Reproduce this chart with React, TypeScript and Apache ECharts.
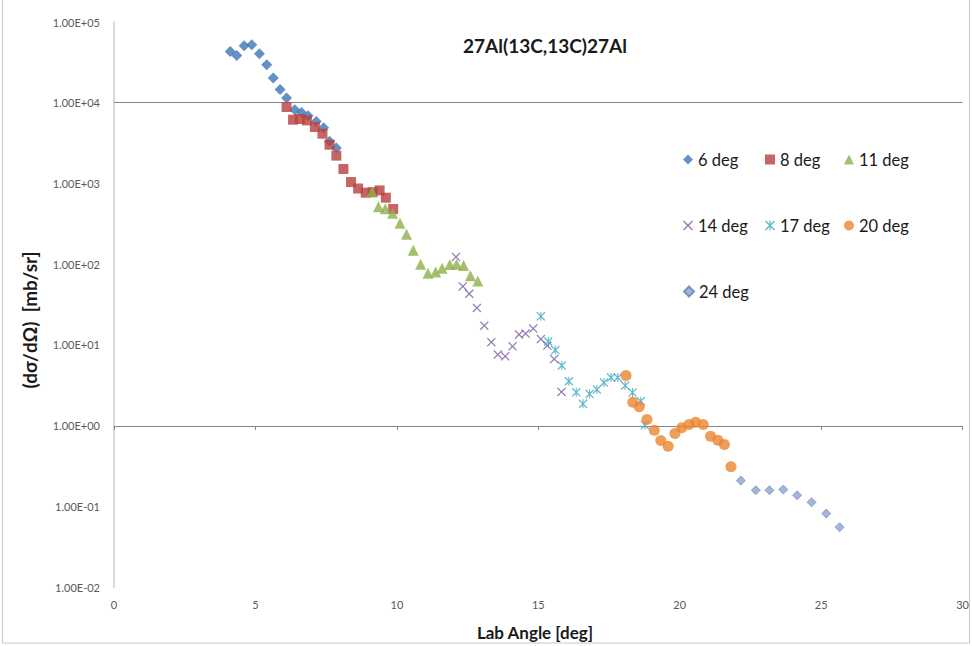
import React, { useEffect, useRef } from "react";
import * as echarts from "echarts";

const deg6Angle = [4.11, 4.34, 4.6, 4.87, 5.14, 5.4, 5.63, 5.87, 6.1, 6.39, 6.63, 6.86, 7.15, 7.41, 7.62, 7.86];
const deg6Value = [43000, 38500, 50800, 52200, 40400, 29600, 20200, 14600, 11400, 8200, 7580, 6900, 5860, 4900, 3320, 2750];

const deg8Angle = [6.1, 6.33, 6.57, 6.82, 7.1, 7.37, 7.62, 7.86, 8.11, 8.38, 8.63, 8.9, 9.14, 9.39, 9.61, 9.87];
const deg8Value = [8850, 6160, 6280, 6040, 5000, 4130, 3020, 2210, 1510, 1040, 865, 768, 779, 820, 666, 483];

const deg11Angle = [9.12, 9.35, 9.59, 9.85, 10.11, 10.34, 10.58, 10.84, 11.1, 11.37, 11.6, 11.87, 12.11, 12.36, 12.6, 12.86];
const deg11Value = [790, 515, 487, 428, 322, 235, 149, 100, 77, 80, 89, 99, 100, 96, 72, 62];

const deg14Angle = [12.09, 12.33, 12.56, 12.83, 13.09, 13.34, 13.57, 13.83, 14.09, 14.32, 14.55, 14.82, 15.09, 15.32, 15.56, 15.82];
const deg14Value = [123, 53, 43, 28.7, 17.3, 10.8, 7.57, 7.21, 9.6, 13.4, 13.8, 15.9, 11.8, 9.8, 6.66, 2.61];

const deg17Angle = [15.09, 15.35, 15.6, 15.83, 16.08, 16.34, 16.58, 16.81, 17.07, 17.32, 17.57, 17.81, 18.07, 18.33, 18.62, 18.77];
const deg17Value = [22.6, 11.0, 8.61, 5.54, 3.54, 2.58, 1.86, 2.47, 2.79, 3.41, 3.93, 3.93, 3.13, 2.56, 2.0, 1.01];

const deg20Angle = [18.1, 18.34, 18.57, 18.84, 19.1, 19.33, 19.59, 19.83, 20.07, 20.33, 20.56, 20.83, 21.09, 21.35, 21.58, 21.81];
const deg20Value = [4.16, 1.94, 1.71, 1.19, 0.875, 0.652, 0.555, 0.796, 0.937, 1.03, 1.1, 1.03, 0.737, 0.657, 0.582, 0.308];

const deg24Angle = [22.16, 22.69, 23.17, 23.66, 24.15, 24.66, 25.18, 25.65];
const deg24Value = [0.208, 0.158, 0.158, 0.161, 0.137, 0.112, 0.0813, 0.055];

const seriesNames = ["6 deg", "8 deg", "11 deg", "14 deg", "17 deg", "20 deg", "24 deg"];
const xTicks = { min: 0, max: 30, interval: 5 };
const yRange = { min: 0.01, max: 100000 };
const titleText = "27Al(13C,13C)27Al";
const xName = "Lab Angle [deg]";
const yName = "(dσ/dΩ)  [mb/sr]";

const X_PATH = "path://M0,1 L1,0 L5,4 L9,0 L10,1 L6,5 L10,9 L9,10 L5,6 L1,10 L0,9 L4,5 Z";
const STAR_PATH =
  "path://M0,1 L1,0 L5,4 L9,0 L10,1 L6,5 L10,9 L9,10 L5,6 L1,10 L0,9 L4,5 Z M4.4,0 L5.6,0 L5.6,10 L4.4,10 Z";

const FONT = "Lato, 'Open Sans', sans-serif";

function pairs(xs: number[], ys: number[]) {
  return xs.map((x, i) => [x, ys[i]]);
}

function fmtLog(v: number) {
  const e = Math.round(Math.log10(v));
  const s = e < 0 ? "-" : "+";
  return "1.00E" + s + String(Math.abs(e)).padStart(2, "0");
}

export default function App() {
  const ref = useRef<HTMLDivElement>(null);
  useEffect(() => {
    if (!ref.current) return;
    const chart = echarts.init(ref.current, null, { renderer: "svg" });

    const styles = [
      { symbol: "diamond", size: 11, color: "#3F74B5", border: "#3F74B5" },
      { symbol: "rect", size: 10, color: "#B8403D", border: "#B8403D" },
      { symbol: "triangle", size: 11, color: "#8DB04A", border: "#8DB04A" },
      { symbol: X_PATH, size: 9, color: "#7A5C9E", border: "#7A5C9E" },
      { symbol: STAR_PATH, size: 9, color: "#3EA6C0", border: "#3EA6C0" },
      { symbol: "circle", size: 11, color: "#EC8530", border: "#EC8530" },
      { symbol: "diamond", size: 9, color: "#8CA2CE", border: "#6580B0" },
    ];
    const datasets = [
      pairs(deg6Angle, deg6Value),
      pairs(deg8Angle, deg8Value),
      pairs(deg11Angle, deg11Value),
      pairs(deg14Angle, deg14Value),
      pairs(deg17Angle, deg17Value),
      pairs(deg20Angle, deg20Value),
      pairs(deg24Angle, deg24Value),
    ];

    const series: any[] = datasets.map((d, i) => ({
      name: seriesNames[i],
      type: "scatter",
      xAxisIndex: 0,
      yAxisIndex: 0,
      data: d,
      symbol: styles[i].symbol,
      symbolSize: styles[i].size,
      itemStyle: { color: styles[i].color, borderColor: styles[i].border, borderWidth: i === 6 ? 0.8 : 0 },
      emphasis: { disabled: true },
      silent: true,
      z: 3,
    }));
    series[0].markLine = {
      silent: true,
      symbol: "none",
      label: { show: false },
      lineStyle: { color: "#868686", type: "solid", width: 1 },
      data: [{ yAxis: 10000 }],
      z: 1,
    };

    const legendPos = [
      [683, 151],
      [765, 151],
      [844, 151],
      [683, 217],
      [765, 217],
      [844, 217],
      [683, 283],
    ];
    const legends = seriesNames.map((n, i) => ({
      data: [n],
      left: legendPos[i][0],
      top: legendPos[i][1],
      itemWidth: 10,
      itemHeight: 10,
      itemGap: 0,
      itemTextGap: 5,
      padding: 0,
      selectedMode: false,
      textStyle: { fontFamily: FONT, fontSize: 16.5, color: "#1a1a1a" },
    }));

    chart.setOption({
      animation: false,
      backgroundColor: "#ffffff",
      grid: { left: 114, right: 6, top: 22, height: 565, containLabel: false },
      xAxis: [
        {
          type: "value",
          position: "bottom",
          min: xTicks.min,
          max: xTicks.max,
          interval: xTicks.interval,
          axisLine: { show: false },
          axisTick: { show: false },
          splitLine: { show: false },
          axisLabel: { color: "#595959", fontSize: 11, fontFamily: FONT, margin: 12 },
        },
        {
          type: "value",
          position: "bottom",
          offset: -161,
          min: xTicks.min,
          max: xTicks.max,
          interval: xTicks.interval,
          axisLine: { show: true, lineStyle: { color: "#868686", width: 1 } },
          axisTick: { show: true, length: 4, lineStyle: { color: "#868686" } },
          splitLine: { show: false },
          axisLabel: { show: false },
        },
      ],
      yAxis: {
        type: "log",
        logBase: 10,
        min: yRange.min,
        max: yRange.max,
        interval: 1,
        axisLine: { show: true, lineStyle: { color: "#d9d9d9", width: 2 } },
        axisTick: { show: false },
        splitLine: { show: false },
        minorSplitLine: { show: false },
        axisLabel: { color: "#595959", fontSize: 11, fontFamily: FONT, margin: 14, formatter: fmtLog },
      },
      legend: legends,
      series,
      graphic: [
        {
          type: "rect",
          silent: true,
          shape: { x: 2.5, y: -5, width: 967, height: 648 },
          style: { fill: "none", stroke: "#c8c8c8", lineWidth: 1 },
        },
        {
          type: "text",
          x: 545,
          y: 45,
          style: {
            text: titleText,
            fontFamily: FONT,
            fontWeight: "bold",
            fontSize: 19,
            fill: "#1a1a1a",
            textAlign: "center",
            textVerticalAlign: "middle",
          },
        },
        {
          type: "text",
          x: 535,
          y: 632,
          style: {
            text: xName,
            fontFamily: FONT,
            fontWeight: "bold",
            fontSize: 17,
            fill: "#1a1a1a",
            textAlign: "center",
            textVerticalAlign: "middle",
          },
        },
        {
          type: "text",
          x: 29,
          y: 320,
          rotation: Math.PI / 2,
          style: {
            text: yName,
            fontFamily: FONT,
            fontWeight: "bold",
            fontSize: 19,
            fill: "#1a1a1a",
            textAlign: "center",
            textVerticalAlign: "middle",
          },
        },
      ],
    });
    return () => chart.dispose();
  }, []);
  return <div ref={ref} style={{ position: "absolute", left: 0, top: 0, width: 972, height: 646 }} />;
}
